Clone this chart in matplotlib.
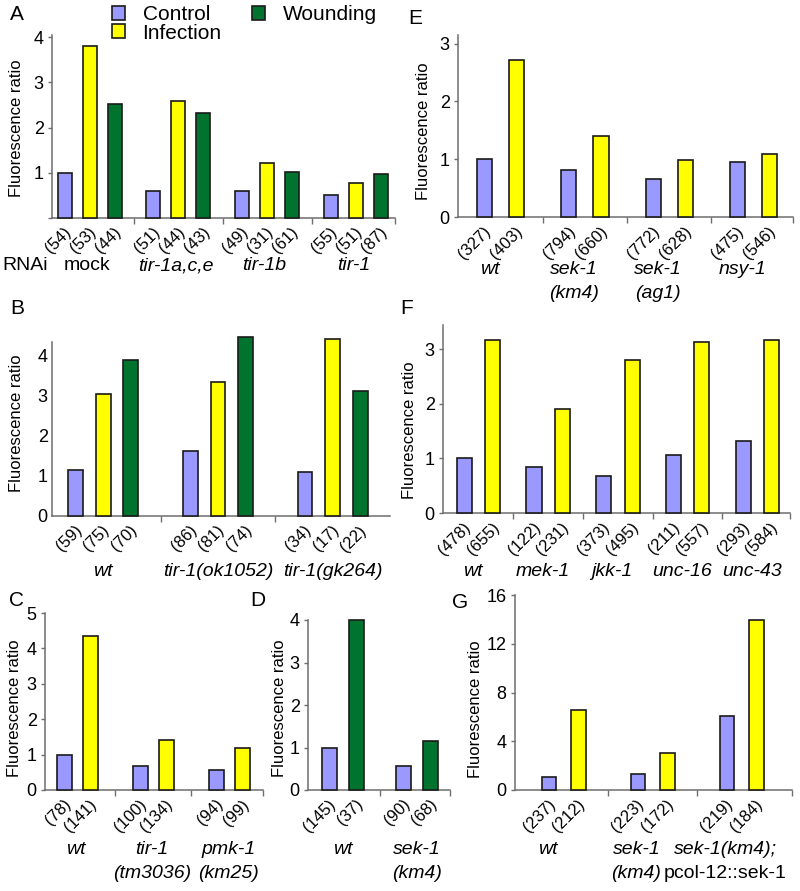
import matplotlib
matplotlib.use('Agg')
import matplotlib.pyplot as plt
from matplotlib.patches import Patch

plt.rcParams['font.family'] = ['Liberation Sans', 'DejaVu Sans']

W, H = 800, 891
fig = plt.figure(figsize=(W / 100, H / 100), dpi=100)

C_CTRL = '#9999FF'
C_INF = '#FFFF00'
C_WND = '#00742F'
AX_COL = '#6e6e6e'
EDGE = '#1a1a1a'

# ---------------- data ----------------
# Panel A (RNAi)
a_groups = ['mock', 'tir-1a,c,e', 'tir-1b', 'tir-1']
a_control = [1.0, 0.60, 0.59, 0.52]
a_infection = [3.80, 2.60, 1.22, 0.77]
a_wounding = [2.52, 2.33, 1.02, 0.98]
a_counts = [['(54)', '(53)', '(44)'], ['(51)', '(44)', '(43)'],
            ['(49)', '(31)', '(61)'], ['(55)', '(51)', '(87)']]

# Panel B
b_groups = ['wt', 'tir-1(ok1052)', 'tir-1(gk264)']
b_control = [1.15, 1.63, 1.11]
b_infection = [3.04, 3.35, 4.42]
b_wounding = [3.90, 4.48, 3.13]
b_counts = [['(59)', '(75)', '(70)'], ['(86)', '(81)', '(74)'], ['(34)', '(17)', '(22)']]

# Panel C
c_groups = [['wt'], ['tir-1', '(tm3036)'], ['pmk-1', '(km25)']]
c_control = [1.0, 0.69, 0.56]
c_infection = [4.36, 1.41, 1.18]
c_counts = [['(78)', '(141)'], ['(100)', '(134)'], ['(94)', '(99)']]

# Panel D
d_groups = [['wt'], ['sek-1', '(km4)']]
d_control = [1.0, 0.57]
d_wounding = [4.0, 1.15]
d_counts = [['(145)', '(37)'], ['(90)', '(68)']]

# Panel E
e_groups = [['wt'], ['sek-1', '(km4)'], ['sek-1', '(ag1)'], ['nsy-1']]
e_control = [1.0, 0.81, 0.66, 0.96]
e_infection = [2.72, 1.40, 0.98, 1.09]
e_counts = [['(327)', '(403)'], ['(794)', '(660)'], ['(772)', '(628)'], ['(475)', '(546)']]

# Panel F
f_groups = [['wt'], ['mek-1'], ['jkk-1'], ['unc-16'], ['unc-43']]
f_control = [1.0, 0.84, 0.67, 1.07, 1.31]
f_infection = [3.17, 1.91, 2.80, 3.12, 3.17]
f_counts = [['(478)', '(655)'], ['(122)', '(231)'], ['(373)', '(495)'],
            ['(211)', '(557)'], ['(293)', '(584)']]

# Panel G
g_groups = [['wt'], ['sek-1', '(km4)'], ['sek-1(km4);', 'pcol-12::sek-1']]
g_control = [1.05, 1.31, 6.07]
g_infection = [6.56, 3.00, 13.93]
g_counts = [['(237)', '(212)'], ['(223)', '(172)'], ['(219)', '(184)']]

TICK_FS = 13
COUNT_FS = 12
GROUP_FS = 14


def make_panel(left, right, base, top, ylim, yticks, series, colors, counts,
               gap, pad_l, pad_r, width, end_tick=True, ytick_len=3,
               show_zero=True):
    ax = fig.add_axes([left / W, 1 - base / H, (right - left) / W, (base - top) / H])
    ng = len(series[0])
    nb = len(series)
    for j, (vals, col) in enumerate(zip(series, colors)):
        xs = [g * gap + j for g in range(ng)]
        ax.bar(xs, vals, width=width, color=col, edgecolor=EDGE, linewidth=1.2,
               clip_on=False, zorder=3)
        for g, x in enumerate(xs):
            ax.annotate(counts[g][j], xy=(x, 0), xycoords='data',
                        xytext=(4, -12), textcoords='offset pixels',
                        rotation=45, rotation_mode='anchor', ha='right',
                        va='center', fontsize=COUNT_FS)
    ax.set_xlim(-pad_l, (ng - 1) * gap + (nb - 1) + pad_r)
    ax.set_ylim(*ylim)
    seps = [g * gap + (nb - 1) + (gap - (nb - 1)) / 2 for g in range(ng - 1)]
    if end_tick:
        seps.append((ng - 1) * gap + (nb - 1) + pad_r)
    ax.set_xticks(seps)
    ax.set_xticklabels([])
    ax.tick_params(axis='x', direction='out', length=4, width=1, color=AX_COL)
    ax.set_yticks(yticks)
    labels = [str(t) for t in yticks]
    if not show_zero:
        labels = ['' if t == 0 else l for t, l in zip(yticks, labels)]
    ax.set_yticklabels(labels, fontsize=TICK_FS)
    ax.tick_params(axis='y', direction='out', length=ytick_len, width=1,
                   color=AX_COL, pad=3)
    for s in ['top', 'right']:
        ax.spines[s].set_visible(False)
    for s in ['left', 'bottom']:
        ax.spines[s].set_color(AX_COL)
        ax.spines[s].set_linewidth(1.1)
    ax.patch.set_visible(False)
    return ax


def group_labels(ax, groups, gap, nb, dys, shift=0.0, upright=()):
    for g, lines in enumerate(groups):
        xc = g * gap + (nb - 1) / 2 + shift
        for k, line in enumerate(lines):
            style = 'normal' if line in upright else 'italic'
            ax.annotate(line, xy=(xc, 0), xycoords=('data', 'axes fraction'),
                        xytext=(0, -dys[k]), textcoords='offset pixels',
                        ha='center', va='center', fontsize=GROUP_FS, style=style)


def ylabel(x, y):
    fig.text(x / W, 1 - y / H, 'Fluorescence ratio', rotation=90,
             ha='center', va='center', fontsize=12)


def letter(s, x, y):
    fig.text(x / W, 1 - y / H, s, ha='center', va='center', fontsize=15)


# ---------------- Panel A ----------------
axA = make_panel(52, 395, 218, 35, (0, 4.05), [0, 1, 2, 3, 4],
                 [a_control, a_infection, a_wounding], [C_CTRL, C_INF, C_WND],
                 a_counts, gap=3.55, pad_l=0.5, pad_r=0.56, width=0.56,
                 show_zero=False)
group_labels(axA, [[g] for g in a_groups], 3.55, 3, [48], shift=-0.1,
             upright=('mock',))
axA.annotate('RNAi', xy=(0, 0), xycoords='axes fraction', xytext=(-27, -48),
             textcoords='offset pixels', ha='center', va='center', fontsize=GROUP_FS)
ylabel(17, 128)
letter('A', 17, 15)
handles = [Patch(facecolor=C_CTRL, edgecolor=EDGE, linewidth=1.2),
           Patch(facecolor=C_INF, edgecolor=EDGE, linewidth=1.2),
           Patch(facecolor=C_WND, edgecolor=EDGE, linewidth=1.2)]
fig.legend(handles, ['Control', 'Infection', 'Wounding'], ncol=2,
           loc='upper left', bbox_to_anchor=(112 / W, 1 - 5 / H),
           frameon=False, borderpad=0, borderaxespad=0, handlelength=0.62,
           handleheight=0.68, handletextpad=0.85, columnspacing=1.45,
           labelspacing=-0.02, fontsize=15)

# ---------------- Panel B ----------------
axB = make_panel(52, 390, 516, 342, (0, 4.35), [0, 1, 2, 3, 4],
                 [b_control, b_infection, b_wounding], [C_CTRL, C_INF, C_WND],
                 b_counts, gap=4.15, pad_l=0.85, pad_r=1.07, width=0.53,
                 end_tick=False, ytick_len=0)
group_labels(axB, [[g] for g in b_groups], 4.15, 3, [55])
ylabel(17, 423)
letter('B', 17, 308)

# ---------------- Panel C ----------------
axC = make_panel(45, 263, 790, 613, (0, 5), [0, 1, 2, 3, 4, 5],
                 [c_control, c_infection], [C_CTRL, C_INF],
                 c_counts, gap=2.92, pad_l=0.75, pad_r=0.79, width=0.58)
group_labels(axC, c_groups, 2.92, 2, [60, 84], shift=-0.05)
ylabel(15, 708)
letter('C', 16, 600)

# ---------------- Panel D ----------------
axD = make_panel(308, 450, 790, 620, (0, 4), [0, 1, 2, 3, 4],
                 [d_control, d_wounding], [C_CTRL, C_WND],
                 d_counts, gap=2.75, pad_l=0.8, pad_r=0.73, width=0.56)
group_labels(axD, d_groups, 2.75, 2, [60, 84])
ylabel(280, 708)
letter('D', 258, 600)

# ---------------- Panel E ----------------
axE = make_panel(458, 793, 217, 35, (0, 3.15), [0, 1, 2, 3],
                 [e_control, e_infection], [C_CTRL, C_INF],
                 e_counts, gap=2.63, pad_l=0.83, pad_r=0.73, width=0.47)
group_labels(axE, e_groups, 2.63, 2, [53, 77], shift=-0.35)
ylabel(423, 131)
letter('E', 415, 18)

# ---------------- Panel F ----------------
axF = make_panel(443, 790, 513, 325, (0, 3.44), [0, 1, 2, 3],
                 [f_control, f_infection], [C_CTRL, C_INF],
                 f_counts, gap=2.45, pad_l=0.75, pad_r=0.65, width=0.53)
group_labels(axF, f_groups, 2.45, 2, [59], shift=-0.2)
ylabel(410, 430)
letter('F', 407, 309)

# ---------------- Panel G ----------------
axG = make_panel(515, 792, 790, 595, (0, 16), [0, 4, 8, 12, 16],
                 [g_control, g_infection], [C_CTRL, C_INF],
                 g_counts, gap=3.0, pad_l=1.15, pad_r=1.2, width=0.49)
group_labels(axG, g_groups, 3.0, 2, [60, 84], shift=-0.55,
             upright=('pcol-12::sek-1',))
ylabel(475, 709)
letter('G', 460, 603)

fig.savefig('out.png', dpi=100)
